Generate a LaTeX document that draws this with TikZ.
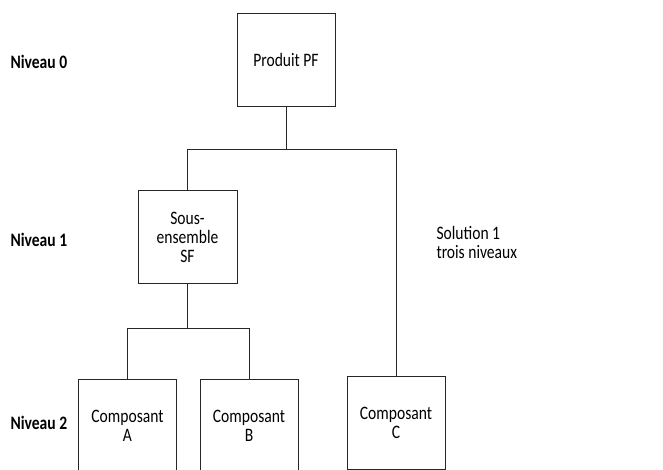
\documentclass[tikz,border=0pt]{standalone}
\usepackage{fontspec}
\setmainfont[FakeStretch=0.82]{Carlito}
\begin{document}
\begin{tikzpicture}[x=1pt,y=1pt,
  every node/.style={font=\fontsize{19}{19}\selectfont},
  part/.style={draw=black!85, line width=0.8pt, minimum width=98pt, minimum height=93pt, align=center, inner sep=0pt},
  level/.style={anchor=west, font=\fontsize{19}{19}\selectfont\bfseries},
  link/.style={draw=black!85, line width=0.8pt}]
\useasboundingbox (0,0) rectangle (663,470);
\clip (0,0) rectangle (663,470);

% structure levels
\node[level] (n0) at (7,408) {Niveau 0};
\node[level] (n1) at (7,230) {Niveau 1};
\node[level] (n2) at (7,47) {Niveau 2};

% parts
\node[part] (pf) at (286,410.5) {Produit PF};
\node[part, minimum width=99pt] (sf) at (187.5,233) {Sous-\\ensemble\\SF};
\node[part] (ca) at (127.5,44.5) {Composant\\A};
\node[part] (cb) at (249,44.5) {Composant\\B};
\node[part] (cc) at (396,47.5) {Composant\\C};

\node[anchor=west, align=left] (sol) at (433,228) {Solution 1\\trois niveaux};

% links
\path (pf.south) ++(0,-43) coordinate (j0);
\path (sf.south) ++(0,-45) coordinate (j1);
\draw[link] (pf.south) -- (j0);
\draw[link] (sf.north) |- (j0) -| (cc.north);
\draw[link] (sf.south) -- (j1);
\draw[link] (ca.north) |- (j1) -| (cb.north);
\end{tikzpicture}
\end{document}
